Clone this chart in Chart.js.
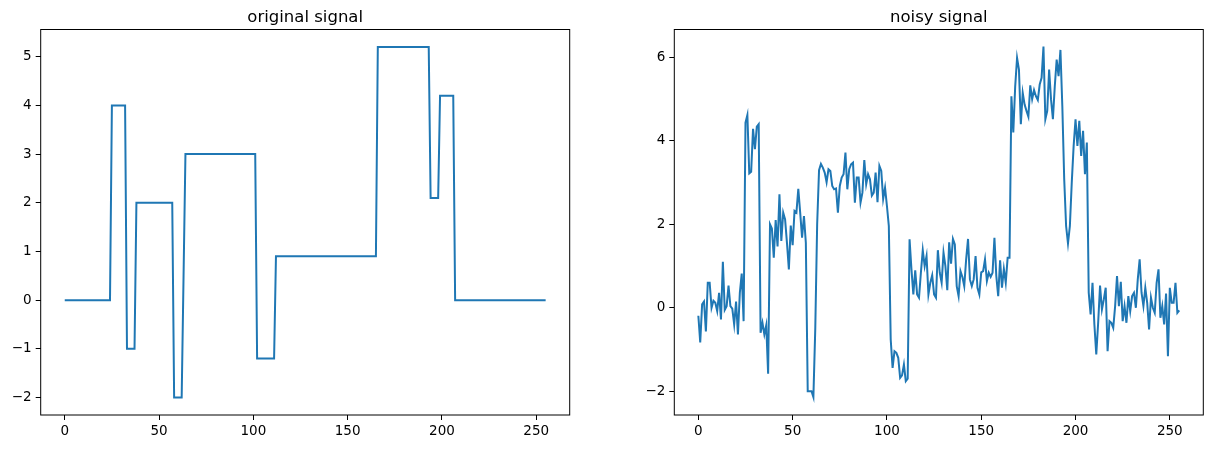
<!DOCTYPE html>
<html>
<head>
<meta charset="utf-8">
<script src="https://cdn.jsdelivr.net/npm/chart.js@4.4.1/dist/chart.umd.min.js"></script>
<style>
  body { margin: 0; background: #fff; }
  canvas { position: absolute; top: 0; }
</style>
</head>
<body>
<canvas id="left" width="606" height="449" style="left:0"></canvas>
<canvas id="right" width="606" height="449" style="left:606px"></canvas>
<script>
// piecewise constant signal, one value per sample (0..255)
const original = [
  0, 0, 0, 0, 0, 0, 0, 0, 0, 0, 0, 0, 0, 0, 0, 0, 0, 0, 0, 0, 0, 0, 0, 0, 0,
  4, 4, 4, 4, 4, 4, 4, 4,
  -1, -1, -1, -1, -1,
  2, 2, 2, 2, 2, 2, 2, 2, 2, 2, 2, 2, 2, 2, 2, 2, 2, 2, 2, 2,
  -2, -2, -2, -2, -2, 0.5,
  3, 3, 3, 3, 3, 3, 3, 3, 3, 3, 3, 3, 3, 3, 3, 3, 3, 3, 3, 3,
  3, 3, 3, 3, 3, 3, 3, 3, 3, 3, 3, 3, 3, 3, 3, 3, 3, 3,
  -1.2, -1.2, -1.2, -1.2, -1.2, -1.2, -1.2, -1.2, -1.2, -1.2,
  0.9, 0.9, 0.9, 0.9, 0.9, 0.9, 0.9, 0.9, 0.9, 0.9, 0.9, 0.9, 0.9, 0.9, 0.9, 0.9, 0.9, 0.9,
  0.9, 0.9, 0.9, 0.9, 0.9, 0.9, 0.9, 0.9, 0.9, 0.9, 0.9, 0.9, 0.9, 0.9, 0.9, 0.9, 0.9, 0.9,
  0.9, 0.9, 0.9, 0.9, 0.9, 0.9, 0.9, 0.9, 0.9, 0.9, 0.9, 0.9, 0.9, 0.9, 0.9, 0.9, 0.9, 0.9,
  5.2, 5.2, 5.2, 5.2, 5.2, 5.2, 5.2, 5.2, 5.2, 5.2, 5.2, 5.2, 5.2, 5.2,
  5.2, 5.2, 5.2, 5.2, 5.2, 5.2, 5.2, 5.2, 5.2, 5.2, 5.2, 5.2, 5.2, 5.2,
  2.1, 2.1, 2.1, 2.1, 2.1,
  4.2, 4.2, 4.2, 4.2, 4.2, 4.2, 4.2, 4.2,
  0, 0, 0, 0, 0, 0, 0, 0, 0, 0, 0, 0, 0, 0, 0, 0, 0, 0, 0, 0, 0, 0, 0, 0, 0,
  0, 0, 0, 0, 0, 0, 0, 0, 0, 0, 0, 0, 0, 0, 0, 0, 0, 0, 0, 0, 0, 0, 0, 0
];

// the same signal with noise
const noisy = [
  -0.19, -0.83, 0.08, 0.15, -0.57, 0.6, 0.6, 0.0, 0.17, 0.12, -0.08, 0.36, -0.28, 1.1, -0.05, 0.04,
  0.53, 0.04, -0.02, -0.4, 0.15, -0.64, 0.36, 0.82, -0.32, 4.44, 4.62, 3.22, 3.26, 4.29, 3.8, 4.34,
  4.4, -0.6, -0.36, -0.64, -0.42, -1.58, 2.0, 1.9, 1.2, 2.1, 1.47, 2.72, 1.6, 2.28, 2.12, 1.55,
  0.92, 1.97, 1.5, 2.32, 2.28, 2.85, 2.28, 1.68, 2.2, 1.56, -2.0, -2.0, -2.0, -2.14, -0.5, 2.0,
  3.3, 3.45, 3.36, 3.24, 3.01, 3.32, 3.28, 2.92, 2.84, 2.86, 2.28, 2.92, 3.12, 3.2, 3.72, 2.84,
  3.32, 3.44, 3.48, 2.52, 3.12, 3.12, 2.52, 2.76, 3.54, 2.96, 3.2, 3.08, 2.69, 2.76, 3.24, 2.53,
  3.4, 3.28, 2.61, 2.88, 2.44, 1.96, -0.76, -1.44, -1.04, -1.08, -1.2, -1.68, -1.62, -1.36, -1.76, -1.7,
  1.64, 0.92, 0.32, 0.9, 0.32, 0.24, 0.84, 1.38, 1.0, 1.24, 0.32, 0.6, 0.78, 0.32, 0.24, 1.38,
  0.84, 0.6, 1.32, 1.0, 0.42, 1.57, 1.06, 1.65, 1.52, 0.52, 0.28, 0.88, 0.74, 0.52, 1.16, 1.65,
  0.68, 0.52, 0.68, 1.24, 0.48, 0.32, 0.85, 0.88, 1.16, 0.64, 0.84, 0.74, 0.84, 1.68, 0.76, 0.28,
  1.14, 0.48, 0.93, 0.6, 1.2, 1.2, 5.07, 4.2, 5.3, 5.99, 5.71, 4.4, 5.15, 4.87, 4.72, 4.58,
  5.33, 5.0, 5.22, 5.07, 4.98, 5.35, 5.51, 6.26, 4.52, 4.72, 5.71, 5.0, 4.52, 5.31, 5.95, 5.55,
  6.18, 4.83, 3.08, 1.96, 1.54, 1.96, 3.0, 3.88, 4.52, 3.88, 4.48, 3.64, 4.24, 3.2, 3.96, 0.36,
  -0.16, 0.6, -0.4, -1.12, -0.36, 0.53, -0.04, 0.2, 0.48, -1.04, -0.32, -0.36, -0.48, 0.04, 0.76, 0.04,
  0.62, -0.32, 0.04, -0.36, 0.28, -0.08, 0.28, 0.36, 0.0, 0.68, 1.16, 0.36, 0.04, 0.48, 0.12, -0.52,
  0.24, 0.0, -0.12, 0.6, 0.92, -0.24, 0.04, -0.4, 0.34, -1.16, 0.48, 0.12, 0.12, 0.6, -0.12, -0.06
];

const xTicks = [0, 50, 100, 150, 200, 250];
const yTicksOriginal = [-2, -1, 0, 1, 2, 3, 4, 5];
const yTicksNoisy = [-2, 0, 2, 4, 6];

const BLUE = "#1f77b4";
const FONT = { family: "'DejaVu Sans', sans-serif", size: 13.5 };

// frame around the plot area + title centred over it (matplotlib style)
const framePlugin = {
  id: "frame",
  afterDraw(chart, args, opts) {
    const { ctx, chartArea: a } = chart;
    ctx.save();
    ctx.strokeStyle = "#000";
    ctx.lineWidth = 1;
    ctx.strokeRect(a.left, a.top, a.right - a.left, a.bottom - a.top);
    ctx.fillStyle = "#000";
    ctx.font = "16.5px 'DejaVu Sans', sans-serif";
    ctx.textAlign = "center";
    ctx.textBaseline = "alphabetic";
    ctx.fillText(opts.text, (a.left + a.right) / 2, a.top - 8);
    ctx.restore();
  },
};

const minus = (v) => String(v).replace("-", "\u2212");

function makeChart(id, title, values, yTicks, yMin, yMax, yWidth, padRight) {
  const points = values.map((v, i) => ({ x: i, y: v }));
  return new Chart(document.getElementById(id), {
    type: "line",
    data: {
      datasets: [
        {
          data: points,
          borderColor: BLUE,
          borderWidth: 2,
          pointRadius: 0,
          tension: 0,
          fill: false,
        },
      ],
    },
    options: {
      responsive: false,
      animation: false,
      layout: { padding: { left: 0, top: 29.5, right: padRight, bottom: 0 } },
      plugins: {
        legend: { display: false },
        tooltip: { enabled: false },
        frame: { text: title },
      },
      scales: {
        x: {
          type: "linear",
          min: -12.75,
          max: 267.75,
          afterBuildTicks: (s) => { s.ticks = xTicks.map((v) => ({ value: v })); },
          afterFit: (s) => { s.height = 34; },
          grid: { display: true, drawOnChartArea: false, drawTicks: true, tickLength: 5, color: "#000", lineWidth: 1 },
          border: { display: false },
          ticks: { color: "#000", font: FONT, padding: 3, autoSkip: false, maxRotation: 0, callback: (v) => minus(v) },
        },
        y: {
          type: "linear",
          min: yMin,
          max: yMax,
          afterBuildTicks: (s) => { s.ticks = yTicks.map((v) => ({ value: v })); },
          afterFit: (s) => { s.width = yWidth; },
          grid: { display: true, drawOnChartArea: false, drawTicks: true, tickLength: 5, color: "#000", lineWidth: 1 },
          border: { display: false },
          ticks: { color: "#000", font: FONT, padding: 4, callback: (v) => minus(v) },
        },
      },
    },
    plugins: [framePlugin],
  });
}

makeChart("left", "original signal", original, yTicksOriginal, -2.36, 5.56, 40.7, 36.3);
makeChart("right", "noisy signal", noisy, yTicksNoisy, -2.57, 6.67, 68.3, 8.7);
</script>
</body>
</html>
